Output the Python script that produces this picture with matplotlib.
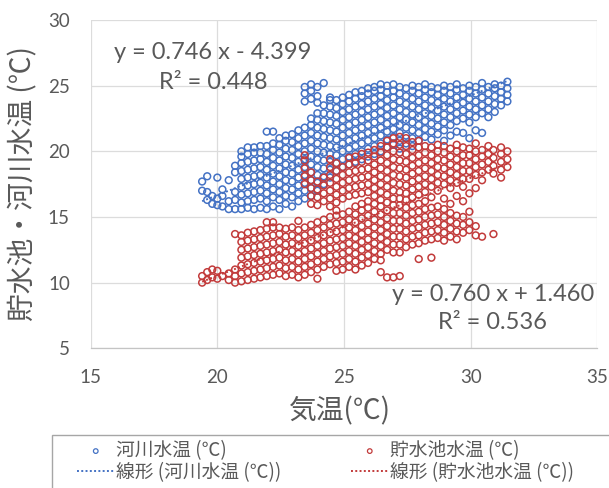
import numpy as np
import matplotlib
matplotlib.use("Agg")
import matplotlib.pyplot as plt
from matplotlib.patches import Rectangle

plt.rcParams['font.family'] = ['Lato', 'Noto Sans CJK JP', 'DejaVu Sans']
CJK = ['Noto Sans CJK JP', 'DejaVu Sans']

# ---------------- data ----------------
# 河川水温: air temperature columns and the water temperatures seen in each
river_air = [19.4, 19.6, 19.8, 20.0, 20.2, 20.45, 20.7, 20.95, 21.2, 21.45, 21.7, 21.95,
             22.2, 22.45, 22.7, 22.95, 23.2, 23.45, 23.7, 23.95, 24.2, 24.45, 24.7, 24.95,
             25.2, 25.45, 25.7, 25.95, 26.2, 26.45, 26.7, 26.95, 27.2, 27.45, 27.7, 27.95,
             28.2, 28.45, 28.7, 28.95, 29.2, 29.45, 29.7, 29.95, 30.2, 30.45, 30.7, 30.95,
             31.2, 31.45]
river_water = [
    [17.0, 17.7],
    [16.3, 16.9, 18.1],
    [16.0, 16.6],
    [15.9, 16.4, 18.0],
    [15.8, 16.6, 17.1],
    [15.6, 16.2, 17.8],
    [15.6, 16.3, 16.9, 18.4, 18.9],
    [15.6, 16.1, 16.7, 17.3, 17.9, 18.5, 19.1, 19.6, 20.0],
    [15.7, 16.2, 16.8, 17.4, 18.0, 18.6, 19.2, 19.8, 20.3],
    [15.6, 16.3, 16.9, 17.5, 18.1, 18.7, 19.3, 19.9, 20.3],
    [15.7, 16.4, 17.0, 17.6, 18.2, 18.8, 19.4, 19.9, 20.4],
    [15.6, 16.2, 16.8, 17.4, 18.0, 18.6, 19.2, 19.8, 20.4, 21.5],
    [15.8, 16.5, 17.1, 17.7, 18.3, 18.9, 19.5, 20.1, 20.6, 21.5],
    [15.6, 16.3, 16.9, 17.5, 18.1, 18.7, 19.3, 19.9, 20.5, 21.0],
    [16.0, 16.6, 17.2, 17.8, 18.4, 19.0, 19.6, 20.2, 20.8, 21.2],
    [15.8, 16.5, 17.1, 17.7, 18.3, 18.9, 19.5, 20.1, 20.7, 21.3],
    [16.2, 16.8, 17.4, 18.0, 18.6, 19.2, 19.8, 20.4, 21.0, 21.6],
    [16.4, 17.0, 17.6, 18.2, 18.8, 19.4, 20.0, 20.6, 21.2, 21.8, 23.8, 24.4, 24.9],
    [16.6, 17.2, 17.8, 18.4, 19.0, 19.6, 20.2, 20.8, 21.4, 22.0, 22.5, 24.0, 24.6, 25.1],
    [17.0, 17.6, 18.2, 18.8, 19.4, 20.0, 20.6, 21.2, 21.8, 22.4, 22.9, 23.7, 24.2, 24.9],
    [17.5, 18.1, 18.7, 19.3, 19.9, 20.5, 21.1, 21.7, 22.3, 22.9, 23.5, 25.2],
    [18.0, 18.6, 19.2, 19.8, 20.4, 21.0, 21.6, 22.2, 22.8, 23.4, 23.9, 24.1],
    [18.5, 19.1, 19.7, 20.3, 20.9, 21.5, 22.1, 22.7, 23.3, 23.9],
    [18.8, 19.4, 20.0, 20.6, 21.2, 21.8, 22.4, 23.0, 23.6, 24.1],
    [19.0, 19.6, 20.2, 20.8, 21.4, 22.0, 22.6, 23.2, 23.8, 24.3],
    [19.2, 19.8, 20.4, 21.0, 21.6, 22.2, 22.8, 23.4, 24.0, 24.5],
    [19.4, 20.0, 20.6, 21.2, 21.8, 22.4, 23.0, 23.6, 24.2, 24.6],
    [19.6, 20.2, 20.8, 21.4, 22.0, 22.6, 23.2, 23.8, 24.4, 24.8],
    [19.8, 20.4, 21.0, 21.6, 22.2, 22.8, 23.4, 24.0, 24.6, 24.9],
    [20.0, 20.6, 21.2, 21.8, 22.4, 23.0, 23.6, 24.2, 24.7, 25.1],
    [20.3, 20.9, 21.5, 22.1, 22.7, 23.3, 23.9, 24.5, 25.0],
    [20.5, 21.1, 21.7, 22.3, 22.9, 23.5, 24.1, 24.6, 25.1],
    [20.2, 20.8, 21.4, 22.0, 22.6, 23.2, 23.8, 24.4, 24.9],
    [20.6, 21.2, 21.8, 22.4, 23.0, 23.6, 24.2, 24.8],
    [20.4, 21.0, 21.6, 22.2, 22.8, 23.4, 24.0, 24.6, 25.0],
    [20.8, 21.4, 22.0, 22.6, 23.2, 23.8, 24.4, 24.9],
    [21.1, 21.7, 22.3, 22.9, 23.5, 24.1, 24.7, 25.1],
    [20.9, 21.5, 22.1, 22.7, 23.3, 23.9, 24.5, 24.9],
    [21.3, 21.9, 22.5, 23.1, 23.7, 24.3, 24.8],
    [20.8, 21.6, 22.2, 22.8, 23.4, 24.0, 24.6, 25.0],
    [21.2, 22.0, 22.6, 23.2, 23.8, 24.4, 24.9],
    [21.5, 22.3, 22.9, 23.5, 24.1, 24.7, 25.1],
    [21.4, 22.5, 23.1, 23.7, 24.3, 24.8],
    [21.0, 22.2, 22.8, 23.4, 24.0, 24.6, 25.0],
    [21.6, 22.6, 23.2, 23.8, 24.4, 24.9],
    [21.4, 22.9, 23.5, 24.1, 24.7, 25.2],
    [22.6, 23.2, 23.8, 24.4, 24.9],
    [23.0, 23.6, 24.2, 24.8, 25.1],
    [23.5, 24.0, 24.5, 25.0],
    [23.8, 24.3, 24.8, 25.3],
]

# 貯水池水温
pond_air = [19.4, 19.6, 19.8, 20.0, 20.2, 20.45, 20.7, 20.95, 21.2, 21.45, 21.7, 21.95,
            22.2, 22.45, 22.7, 22.95, 23.2, 23.45, 23.7, 23.95, 24.2, 24.45, 24.7, 24.95,
            25.2, 25.45, 25.7, 25.95, 26.2, 26.45, 26.7, 26.95, 27.2, 27.45, 27.7, 27.95,
            28.2, 28.45, 28.7, 28.95, 29.2, 29.45, 29.7, 29.95, 30.2, 30.45, 30.7, 30.9,
            31.2, 31.45]
pond_water = [
    [10.0, 10.5],
    [10.2, 10.8],
    [10.4, 11.0],
    [10.3, 10.9],
    [10.5],
    [10.2, 10.7],
    [10.0, 10.5, 11.0, 13.7],
    [10.1, 10.7, 11.3, 11.9, 12.5, 13.1, 13.6],
    [10.2, 10.8, 11.4, 12.0, 12.6, 13.2, 13.8],
    [10.3, 10.9, 11.5, 12.1, 12.7, 13.3, 13.9],
    [10.4, 11.0, 11.6, 12.2, 12.8, 13.4, 14.0],
    [10.5, 11.1, 11.7, 12.3, 12.9, 13.5, 14.1, 14.6],
    [10.6, 11.2, 11.8, 12.4, 13.0, 13.6, 14.2, 14.6],
    [10.7, 11.3, 11.9, 12.5, 13.1, 13.7, 14.2],
    [10.5, 11.1, 11.7, 12.3, 12.9, 13.5, 14.1],
    [10.6, 11.2, 11.8, 12.4, 13.0, 13.6, 14.2],
    [10.4, 11.0, 11.6, 12.2, 12.8, 13.4, 14.0, 14.7],
    [10.6, 11.2, 11.8, 12.4, 13.0, 13.6, 14.2, 17.5, 18.1, 18.7, 19.3, 19.7],
    [10.8, 11.4, 12.0, 12.6, 13.2, 13.8, 14.4, 16.0, 16.6, 17.2, 17.8, 18.4],
    [10.3, 11.0, 11.6, 12.2, 12.8, 13.4, 14.0, 14.6, 15.9, 16.5, 17.1, 17.7],
    [11.2, 11.8, 12.4, 13.0, 13.6, 14.2, 14.8, 16.2, 16.8, 17.4, 18.0],
    [11.4, 12.0, 12.6, 13.2, 13.8, 14.4, 15.0, 15.8, 16.4, 17.0, 17.6, 18.2, 18.8, 19.4],
    [10.9, 11.5, 12.1, 12.7, 13.3, 13.9, 14.5, 15.1, 15.5, 16.1, 16.7, 17.3, 17.9, 18.5, 19.1],
    [11.0, 11.6, 12.2, 12.8, 13.4, 14.0, 14.6, 15.2, 16.4, 17.0, 17.6, 18.2, 18.8],
    [11.2, 11.8, 12.4, 13.0, 13.6, 14.2, 14.8, 15.4, 16.6, 17.2, 17.8, 18.4, 19.0, 19.5],
    [11.0, 11.6, 12.2, 12.8, 13.4, 14.0, 14.6, 15.2, 15.8, 16.7, 17.3, 17.9, 18.5, 19.1, 19.6],
    [11.3, 11.9, 12.5, 13.1, 13.7, 14.3, 14.9, 15.5, 16.0, 16.8, 17.4, 18.0, 18.6, 19.2, 19.8],
    [11.5, 12.1, 12.7, 13.3, 13.9, 14.5, 15.1, 15.7, 16.2, 16.9, 17.5, 18.1, 18.7, 19.3, 19.9],
    [11.8, 12.4, 13.0, 13.6, 14.2, 14.8, 15.4, 16.0, 16.6, 17.2, 17.8, 18.4, 19.0, 19.6, 20.1],
    [10.8, 11.7, 12.2, 12.8, 13.4, 14.0, 14.6, 15.2, 15.8, 16.3, 16.9, 17.5, 18.1, 18.7, 19.3, 19.9, 20.4],
    [10.4, 12.5, 13.1, 13.7, 14.3, 14.9, 15.5, 16.1, 16.7, 17.3, 17.9, 18.5, 19.1, 19.7, 20.3, 20.8],
    [10.4, 12.3, 12.9, 13.5, 14.1, 14.7, 15.3, 15.9, 16.4, 17.0, 17.6, 18.2, 18.8, 19.4, 20.0, 20.6, 21.0],
    [10.5, 12.3, 12.9, 13.5, 14.1, 14.7, 15.3, 15.9, 16.4, 16.9, 17.5, 18.1, 18.7, 19.3, 19.9, 20.5, 21.1],
    [12.7, 13.3, 13.9, 14.5, 15.1, 15.7, 16.3, 16.8, 17.4, 18.0, 18.6, 19.2, 19.8, 20.4, 21.0],
    [12.9, 13.5, 14.1, 14.7, 15.3, 15.9, 16.5, 17.1, 17.7, 18.3, 18.9, 19.5, 20.1, 20.7],
    [11.8, 13.0, 13.6, 14.2, 14.8, 15.4, 16.0, 16.7, 17.3, 17.9, 18.5, 19.1, 19.7, 20.3, 20.8],
    [13.2, 13.8, 14.4, 15.0, 15.6, 16.2, 16.9, 17.5, 18.1, 18.7, 19.3, 19.9, 20.4],
    [11.9, 13.3, 13.9, 14.5, 15.1, 15.7, 16.5, 17.3, 17.9, 18.5, 19.1, 19.7, 20.3],
    [13.4, 14.0, 14.6, 15.2, 15.8, 17.0, 17.6, 18.2, 18.8, 19.4, 20.0, 20.5],
    [13.2, 13.8, 14.4, 15.0, 15.6, 16.4, 17.5, 18.1, 18.7, 19.3, 19.9, 20.4],
    [13.5, 14.1, 14.7, 15.3, 16.0, 17.2, 17.8, 18.4, 19.0, 19.6, 20.2],
    [13.3, 13.9, 14.5, 15.1, 16.6, 17.6, 18.2, 18.8, 19.4, 20.0, 20.5],
    [13.8, 14.4, 15.0, 16.2, 17.3, 17.9, 18.5, 19.1, 19.7, 20.3],
    [14.0, 14.6, 15.4, 16.8, 17.9, 18.5, 19.1, 19.7, 20.2],
    [13.6, 14.3, 17.2, 18.2, 18.8, 19.4, 20.0, 20.6],
    [13.5, 17.8, 18.4, 19.0, 19.6, 20.1],
    [18.6, 19.2, 19.8, 20.4],
    [13.7, 18.3, 18.9, 19.5, 20.1],
    [18.0, 18.6, 19.2, 19.8, 20.3],
    [18.8, 19.4, 20.0],
]

# trendline coefficients as printed on the chart
river_fit = (0.760, 1.460)
pond_fit = (0.746, -4.399)
eq_texts = ["y = 0.746 x - 4.399", "R² = 0.448", "y = 0.760 x + 1.460", "R² = 0.536"]

series_labels = ["河川水温 (℃)", "貯水池水温 (℃)"]
trend_labels = ["線形 (河川水温 (℃))", "線形 (貯水池水温 (℃))"]
x_ticks = [15, 20, 25, 30, 35]
y_ticks = [5, 10, 15, 20, 25, 30]

BLUE = "#4472C4"
RED = "#C23B3B"
GREY = "#595959"

# ---------------- figure ----------------
fig = plt.figure(figsize=(6.09, 4.88), dpi=100)
ax = fig.add_axes([0.1489, 0.2863, 0.8319, 0.6727])

rx = np.concatenate([[a] * len(ys) for a, ys in zip(river_air, river_water)])
ry = np.concatenate(river_water)
px = np.concatenate([[a] * len(ys) for a, ys in zip(pond_air, pond_water)])
py = np.concatenate(pond_water)

h1 = ax.scatter(rx, ry, s=24, facecolors="none", edgecolors=BLUE, linewidths=1.1,
                label=series_labels[0], zorder=2)
h3 = ax.scatter(px, py, s=24, facecolors="none", edgecolors=RED, linewidths=1.1,
                label=series_labels[1], zorder=3)

xr = np.array([rx.min(), rx.max()])
h2, = ax.plot(xr, river_fit[0] * xr + river_fit[1], color=BLUE, lw=1.4,
              ls=(0, (1, 1.2)), label=trend_labels[0], zorder=4)
xp = np.array([px.min(), px.max()])
h4, = ax.plot(xp, pond_fit[0] * xp + pond_fit[1], color=RED, lw=1.4,
              ls=(0, (1, 1.2)), label=trend_labels[1], zorder=4)

ax.set_xlim(15, 35)
ax.set_ylim(5, 30)
ax.set_xticks(x_ticks)
ax.set_yticks(y_ticks)
ax.grid(True, color="#dcdcdc", lw=0.9)
ax.set_axisbelow(True)
for s in ["top", "right", "left"]:
    ax.spines[s].set_visible(False)
ax.spines["bottom"].set_color("#c4c4c4")
ax.spines["bottom"].set_linewidth(0.9)
ax.tick_params(length=0, pad=15, labelsize=13.5, colors=GREY)

# equation labels
ax.text(19.83, 27.56, eq_texts[0], ha="center", va="center", fontsize=17, color=GREY, zorder=5)
ax.text(19.83, 25.22, eq_texts[1], ha="center", va="center", fontsize=17, color=GREY, zorder=5)
ax.text(30.88, 9.12, eq_texts[2], ha="center", va="center", fontsize=17, color=GREY, zorder=5)
ax.text(30.88, 7.0, eq_texts[3], ha="center", va="center", fontsize=17, color=GREY, zorder=5)

# axis titles
fig.text(23.5 / 609, 0.623, "貯水池・河川水温 (℃)", rotation=90, ha="center", va="center",
         fontsize=20, color=GREY, family=CJK)
fig.text(340 / 609, 0.156, "気温(℃)", ha="center", va="center", fontsize=20, color=GREY,
         family=CJK)

# legend frame (extends beyond figure like the reference crop)
fig.patches.append(Rectangle((52 / 609, -0.2), 1.2, 0.2 + 53 / 488, transform=fig.transFigure,
                             fill=False, edgecolor="#a6a6a6", lw=1.0))
leg = fig.legend([h1, h2, h3, h4], [series_labels[0], trend_labels[0], series_labels[1], trend_labels[1]],
                 ncol=2, loc="upper left", bbox_to_anchor=(77 / 609, 48 / 488),
                 frameon=False, borderpad=0, borderaxespad=0,
                 prop={'family': CJK, 'size': 13.5},
                 handlelength=2.0, handletextpad=0.1, columnspacing=3.7,
                 labelspacing=0.05, scatterpoints=1)
for t in leg.get_texts():
    t.set_color(GREY)
for hnd in leg.legend_handles:
    if hasattr(hnd, "set_sizes"):
        hnd.set_sizes([11])
        hnd.set_linewidth(0.9)

fig.savefig("out.png", dpi=100)
